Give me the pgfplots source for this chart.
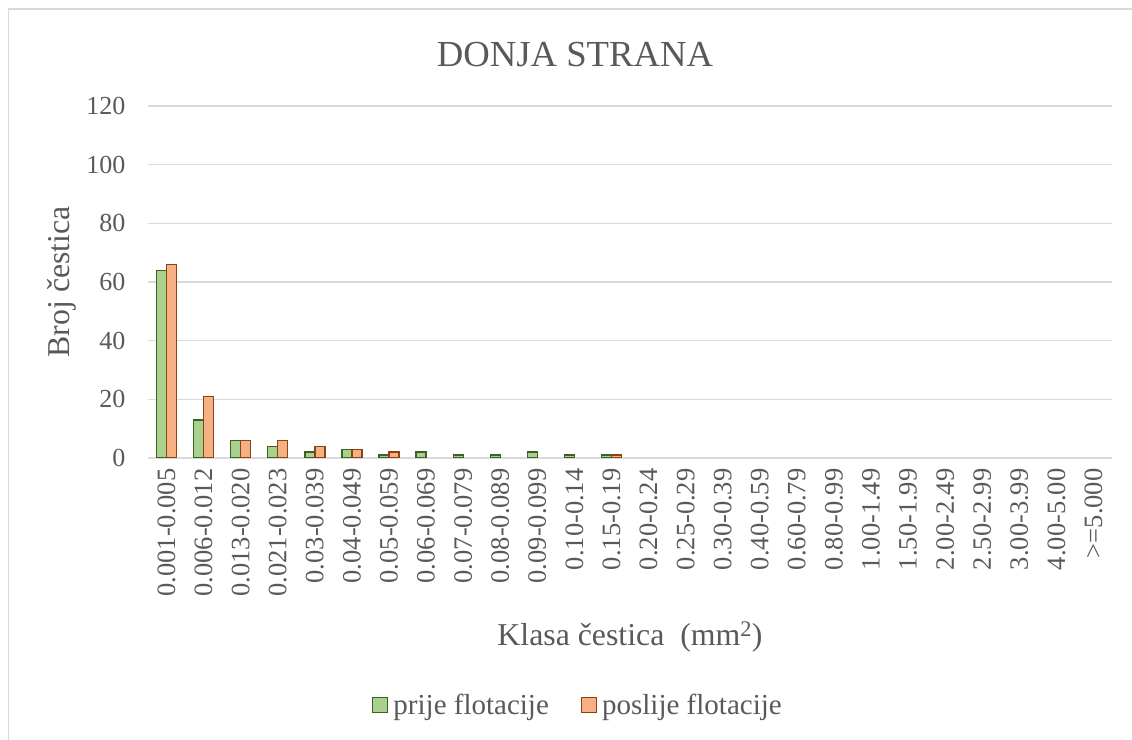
\documentclass[border=0pt]{standalone}
\usepackage{fontspec}
\setmainfont{Liberation Serif}
\usepackage{pgfplots}
\pgfplotsset{compat=1.18}
\definecolor{txt}{HTML}{595959}
\definecolor{grd}{HTML}{D9D9D9}
\definecolor{gfill}{HTML}{A9D18E}
\definecolor{gline}{HTML}{3B6124}
\definecolor{ofill}{HTML}{F4B183}
\definecolor{oline}{HTML}{8E4210}
\begin{document}
\begin{tikzpicture}[x=1bp,y=1bp]
\useasboundingbox (0,0) rectangle (1132,740);
\draw[grd, line width=1.2bp] (8.5,0) -- (8.5,731) -- (1132,731);
\begin{axis}[
  at={(148bp,282bp)}, anchor=south west,
  scale only axis, width=964bp, height=352bp,
  ybar=0pt, bar width=10bp,
  xmin=-0.5, xmax=25.5, ymin=0, ymax=120,
  ytick={0,20,...,120},
  xtick={0,...,25},
  xticklabels={0.001-0.005,0.006-0.012,0.013-0.020,0.021-0.023,0.03-0.039,0.04-0.049,0.05-0.059,0.06-0.069,0.07-0.079,0.08-0.089,0.09-0.099,0.10-0.14,0.15-0.19,0.20-0.24,0.25-0.29,0.30-0.39,0.40-0.59,0.60-0.79,0.80-0.99,1.00-1.49,1.50-1.99,2.00-2.49,2.50-2.99,3.00-3.99,4.00-5.00,>=5.000},
  axis line style={draw=none},
  major tick length=0pt,
  ymajorgrids, grid style={grd, line width=1.2bp},
  /pgf/number format/assume math mode=true,
  xticklabel style={rotate=90, anchor=east, font=\fontsize{26.5bp}{30bp}\selectfont, text=txt, xshift=-7bp},
  yticklabel style={font=\fontsize{26bp}{30bp}\selectfont, text=txt, xshift=-19bp},
  xlabel={Klasa čestica\ \ (mm\textsuperscript{2})},
  ylabel={Broj čestica},
  title={DONJA STRANA},
  every axis x label/.style={at={(axis description cs:0.5,0)}, anchor=center, yshift=-179bp, font=\fontsize{31.8bp}{36bp}\selectfont, text=txt},
  every axis y label/.style={at={(axis description cs:-0.0892,0.5)}, anchor=center, rotate=90, font=\fontsize{31.8bp}{36bp}\selectfont, text=txt},
  every axis title/.style={at={(axis description cs:0.5,1)}, anchor=center, xshift=-55bp, yshift=51bp, font=\fontsize{36.7bp}{42bp}\selectfont, text=txt},
  legend style={at={(axis description cs:0.446,-0.702)}, anchor=center, draw=none, fill=none,
    legend columns=2, font=\fontsize{29bp}{32bp}\selectfont, text=txt,
    /tikz/every even column/.append style={column sep=30bp}},
  legend image code/.code={\draw[#1, line width=1.3bp] (0bp,-7.5bp) rectangle (15bp,7.5bp);},
  legend cell align=left,
]
\draw[grd, line width=1.2bp] (axis cs:-0.5,0) -- (axis cs:25.5,0);
\addplot[fill=gfill, draw=gline, line width=1.3bp] coordinates {
(0,64) (1,13) (2,6) (3,4) (4,2) (5,3) (6,1) (7,2) (8,1) (9,1) (10,2) (11,1) (12,1)};
\addplot[fill=ofill, draw=oline, line width=1.3bp] coordinates {
(0,66) (1,21) (2,6) (3,6) (4,4) (5,3) (6,2) (12,1)};
\legend{\hspace{3bp}prije flotacije, \hspace{3bp}poslije flotacije}
\end{axis}
\end{tikzpicture}
\end{document}
